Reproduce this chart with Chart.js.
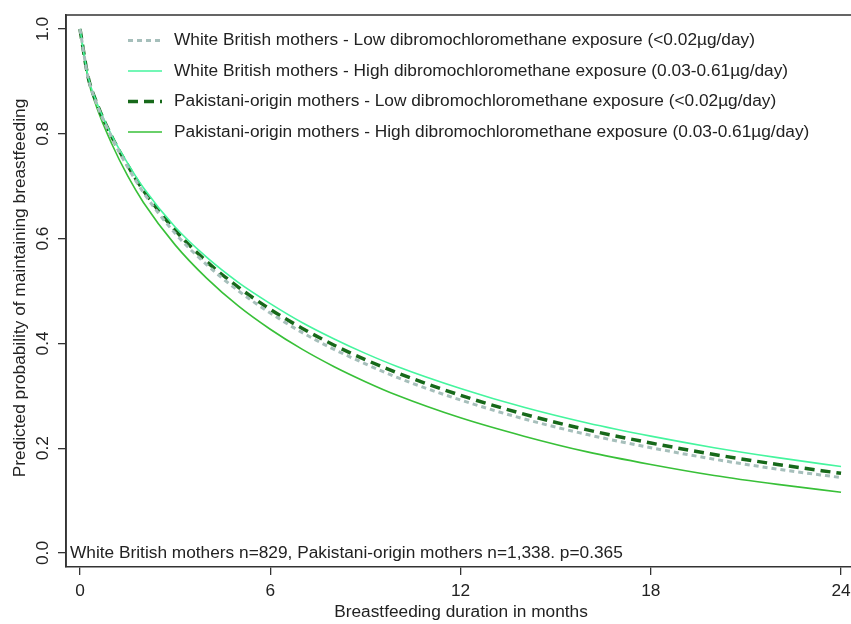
<!DOCTYPE html>
<html>
<head>
<meta charset="utf-8">
<script src="https://cdn.jsdelivr.net/npm/chart.js@4.4.0/dist/chart.umd.min.js"></script>
<style>
  html, body { margin: 0; padding: 0; background: #fff; overflow: hidden; }
  #wrap { width: 851px; height: 624px; position: relative; overflow: hidden; }
  canvas { display: block; }
</style>
</head>
<body>
<div id="wrap"><canvas id="c" width="880" height="624"></canvas></div>
<script>
// Predicted probability of still breastfeeding, by month
const months = [0, 0.25, 0.5, 1, 1.5, 2, 3, 4, 5, 6, 7, 8, 9, 10, 12, 14, 16, 18, 20, 22, 24];
const whiteLow  = [1.000, 0.909, 0.861, 0.793, 0.737, 0.688, 0.610, 0.550, 0.500, 0.458, 0.421, 0.389, 0.361, 0.335, 0.292, 0.256, 0.226, 0.201, 0.179, 0.160, 0.144];
const whiteHigh = [1.000, 0.910, 0.864, 0.797, 0.744, 0.697, 0.622, 0.564, 0.516, 0.476, 0.440, 0.409, 0.381, 0.356, 0.314, 0.278, 0.248, 0.223, 0.201, 0.182, 0.165];
const pakLow    = [1.000, 0.910, 0.863, 0.795, 0.740, 0.692, 0.616, 0.556, 0.507, 0.465, 0.429, 0.397, 0.369, 0.344, 0.301, 0.265, 0.235, 0.210, 0.188, 0.169, 0.152];
const pakHigh   = [1.000, 0.906, 0.855, 0.781, 0.720, 0.669, 0.588, 0.524, 0.471, 0.427, 0.389, 0.356, 0.327, 0.301, 0.258, 0.223, 0.193, 0.169, 0.148, 0.131, 0.116];

const seriesLabels = [
  'White British mothers - Low dibromochloromethane exposure (<0.02\u00b5g/day)',
  'White British mothers - High dibromochloromethane exposure (0.03-0.61\u00b5g/day)',
  'Pakistani-origin mothers - Low dibromochloromethane exposure (<0.02\u00b5g/day)',
  'Pakistani-origin mothers - High dibromochloromethane exposure (0.03-0.61\u00b5g/day)'
];
const xTicks = [0, 6, 12, 18, 24];
const yTicks = [0, 0.2, 0.4, 0.6, 0.8, 1.0];
const xTitle = 'Breastfeeding duration in months';
const yTitle = 'Predicted probability of maintaining breastfeeding';
const noteText = 'White British mothers n=829, Pakistani-origin mothers n=1,338. p=0.365';

const FONT = '"Liberation Sans", Arial, Helvetica, sans-serif';
const FONT_SIZE = 17.3;
const TEXT = '#222222';
const AXIS = '#333333';

const toPoints = vals => months.map((m, i) => ({ x: m, y: vals[i] }));

const datasets = [
  { label: seriesLabels[0], data: toPoints(whiteLow),  borderColor: '#a6bfbb', borderWidth: 3,   borderDash: [5, 4] },
  { label: seriesLabels[1], data: toPoints(whiteHigh), borderColor: '#45f59e', borderWidth: 1.6, borderDash: [] },
  { label: seriesLabels[2], data: toPoints(pakLow),    borderColor: '#17691a', borderWidth: 3.5, borderDash: [10, 6] },
  { label: seriesLabels[3], data: toPoints(pakHigh),   borderColor: '#38c038', borderWidth: 1.6, borderDash: [] }
].map(d => Object.assign(d, { pointRadius: 0, fill: false, cubicInterpolationMode: 'monotone', borderCapStyle: 'butt' }));

// White page background, plot frame (left and top; the bottom edge is the x axis),
// key inside the plot, note and axis titles
const decorations = {
  id: 'decorations',
  beforeDraw(chart) {
    const { ctx } = chart;
    ctx.save();
    ctx.fillStyle = '#ffffff';
    ctx.fillRect(0, 0, chart.width, chart.height);
    ctx.restore();
  },
  beforeDatasetsDraw(chart) {
    const { ctx, chartArea: a } = chart;
    ctx.save();
    ctx.strokeStyle = AXIS;
    ctx.lineWidth = 1.6;
    ctx.beginPath();
    ctx.moveTo(a.left, a.bottom);
    ctx.lineTo(a.left, a.top);
    ctx.lineTo(chart.width, a.top);
    ctx.stroke();
    ctx.restore();
  },
  afterDatasetsDraw(chart) {
    const { ctx } = chart;
    ctx.save();
    ctx.font = FONT_SIZE + 'px ' + FONT;
    ctx.fillStyle = TEXT;
    ctx.textBaseline = 'middle';
    chart.data.datasets.forEach((ds, i) => {
      const y = 40.5 + i * 30.5;
      ctx.save();
      ctx.strokeStyle = ds.borderColor;
      ctx.lineWidth = ds.borderWidth;
      ctx.setLineDash(ds.borderDash || []);
      ctx.beginPath();
      ctx.moveTo(128, y);
      ctx.lineTo(162, y);
      ctx.stroke();
      ctx.restore();
      ctx.fillText(ds.label, 174, y);
    });
    ctx.textAlign = 'left';
    ctx.fillText(noteText, 70, 553);
    ctx.textAlign = 'center';
    ctx.fillText(xTitle, 461, 612);
    ctx.translate(20, 288);
    ctx.rotate(-Math.PI / 2);
    ctx.fillText(yTitle, 0, 0);
    ctx.restore();
  }
};

new Chart(document.getElementById('c'), {
  type: 'line',
  data: { datasets },
  options: {
    responsive: false,
    animation: false,
    devicePixelRatio: 1,
    layout: { padding: { top: 15, right: 24, left: 0, bottom: 0 } },
    plugins: { legend: { display: false }, tooltip: { enabled: false } },
    scales: {
      x: {
        type: 'linear',
        min: -0.4415,
        max: 24.472,
        afterBuildTicks: s => { s.ticks = xTicks.map(v => ({ value: v })); },
        afterFit: s => { s.height = 57; },
        grid: { display: true, drawOnChartArea: false, drawTicks: true, tickLength: 8, color: AXIS, lineWidth: 1.3 },
        border: { display: true, color: AXIS, width: 1.6 },
        ticks: { font: { family: FONT, size: FONT_SIZE }, color: TEXT, padding: 6, maxRotation: 0, autoSkip: false }
      },
      y: {
        type: 'linear',
        min: -0.0267,
        max: 1.0267,
        afterBuildTicks: s => { s.ticks = yTicks.map(v => ({ value: v })); },
        afterFit: s => { s.width = 66; },
        grid: { display: true, drawOnChartArea: false, drawTicks: true, tickLength: 8, color: AXIS, lineWidth: 1.3 },
        border: { display: true, color: AXIS, width: 1.6 },
        ticks: {
          font: { family: FONT, size: FONT_SIZE }, color: TEXT, padding: 2.5,
          minRotation: 90, maxRotation: 90, crossAlign: 'center', autoSkip: false,
          callback: v => Number(v).toFixed(1)
        }
      }
    }
  },
  plugins: [decorations]
});
</script>
</body>
</html>
